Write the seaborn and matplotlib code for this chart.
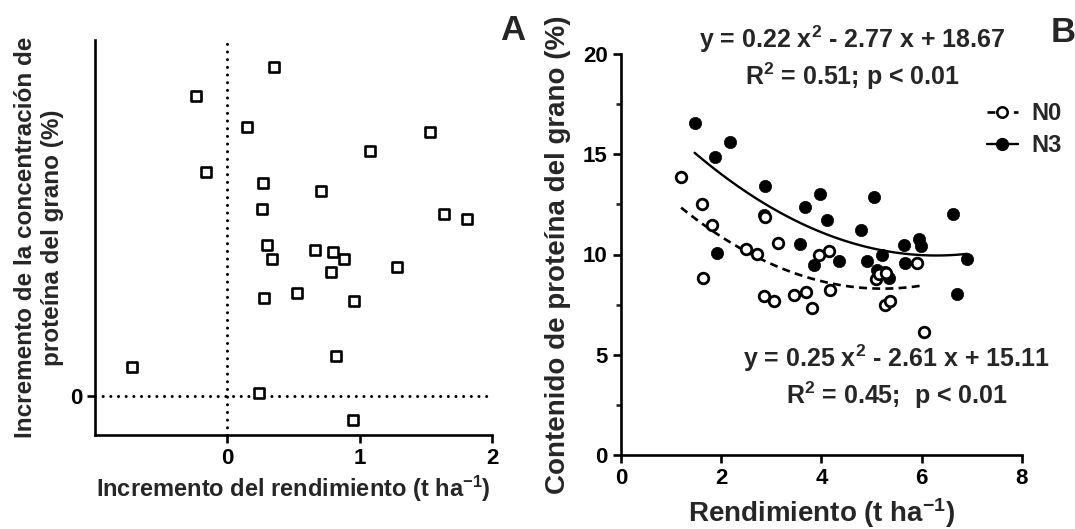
import numpy as np
import seaborn as sns
import matplotlib.pyplot as plt
from matplotlib.lines import Line2D

# Panel A: incrementos N3 - N0
inc_rend = [0.35, -0.24, 0.15, 1.53, 1.08, -0.16, 0.27, 0.71, 0.26, 1.64, 1.81,
            0.30, 0.66, 0.80, 0.34, 0.88, 0.78, 1.28, 0.53, 0.28, 0.96, 0.82,
            -0.72, 0.24, 0.95]
inc_prot = [8.50, 7.75, 6.93, 6.81, 6.32, 5.78, 5.51, 5.30, 4.83, 4.70, 4.57,
            3.89, 3.78, 3.71, 3.54, 3.54, 3.21, 3.33, 2.65, 2.53, 2.46, 1.03,
            0.76, 0.08, -0.61]
ticks_a_x = [0, 1, 2]
ticks_a_y = [0]

# Panel B: rendimiento vs proteina
n3_rend = [1.47, 2.17, 1.87, 2.87, 2.85, 3.68, 3.57, 1.91, 3.98, 5.05, 4.11, 6.63,
           4.79, 5.65, 5.95, 5.98, 5.21, 4.36, 4.91, 3.85, 5.68, 6.91, 6.70, 5.11,
           5.28, 5.35]
n3_prot = [16.57, 15.61, 14.88, 13.42, 11.97, 12.35, 10.52, 10.06, 13.00, 12.88,
           11.72, 12.02, 11.22, 10.47, 10.76, 10.42, 9.98, 9.69, 9.69, 9.48, 9.56,
           9.78, 8.01, 9.23, 9.14, 8.85]
n0_rend = [1.20, 1.61, 1.81, 2.50, 2.71, 3.14, 1.63, 2.85, 3.05, 3.46, 3.69, 3.81,
           2.88, 4.15, 3.96, 5.91, 4.17, 5.27, 5.38, 6.05, 5.10, 5.15, 5.30]
n0_prot = [13.88, 12.52, 11.46, 10.27, 10.02, 10.56, 8.81, 7.93, 7.68, 7.98, 8.15,
           7.32, 11.85, 10.19, 9.98, 9.56, 8.23, 7.48, 7.68, 6.15, 8.80, 9.05, 9.10]
ticks_b_x = [0, 2, 4, 6, 8]
ticks_b_y = [0, 5, 10, 15, 20]

coef_n0 = [0.25, -2.61, 15.11]
coef_n3 = [0.22, -2.77, 18.67]

sns.set_style('ticks')
plt.rcParams['font.family'] = ['Liberation Sans', 'DejaVu Sans']
plt.rcParams['font.weight'] = 'bold'
plt.rcParams['axes.labelweight'] = 'bold'
plt.rcParams['mathtext.default'] = 'regular'
plt.rcParams['axes.linewidth'] = 1.9
plt.rcParams['axes.edgecolor'] = 'black'

W, H = 1075, 529
fig = plt.figure(figsize=(W / 100, H / 100), dpi=100)
axA = fig.add_axes([95 / W, 1 - 435 / H, (492 - 95) / W, (435 - 39.8) / H])
axB = fig.add_axes([621 / W, 1 - 455 / H, (1021.7 - 621) / W, (455 - 54) / H])

# ---- Panel A ----
dot = (0, (0.01, 2.5))
axA.axvline(0, color='black', ls=dot, lw=2.2, zorder=1, dash_capstyle='round')
axA.axhline(0, color='black', ls=dot, lw=2.2, zorder=1, dash_capstyle='round')
sns.scatterplot(x=inc_rend, y=inc_prot, ax=axA, marker='s', s=58,
                color='white', edgecolor='black', linewidth=1.9, zorder=3)
axA.set_xlim(-1, 2)
axA.set_ylim(-1, 9.19)
axA.set_xticks(ticks_a_x, labels=[str(t) for t in ticks_a_x], fontweight='bold')
axA.set_yticks(ticks_a_y, labels=[str(t) for t in ticks_a_y], fontweight='bold')
axA.tick_params(width=1.9, length=5.5, labelsize=16, colors='black')
axA.set_xlabel('Incremento del rendimiento (t ha$^{-1}$)', fontsize=17, va='center')
axA.set_ylabel('Incremento de la concentración de\nproteína del grano (%)',
               fontsize=17.5, va='center')
axA.xaxis.set_label_coords(0.5, -0.137)
axA.yaxis.set_label_coords(-0.141, 0.5)

# ---- Panel B ----
x3 = np.linspace(min(n3_rend), max(n3_rend), 100)
x0 = np.linspace(min(n0_rend), max(n0_rend), 100)
sns.lineplot(x=x3, y=np.polyval(coef_n3, x3), ax=axB, color='black', lw=1.7)
sns.lineplot(x=x0, y=np.polyval(coef_n0, x0), ax=axB, color='black', lw=1.9,
             linestyle=(0, (3, 2)))
sns.scatterplot(x=n3_rend, y=n3_prot, ax=axB, marker='o', s=78,
                color='black', edgecolor='black', linewidth=0.5, zorder=3)
sns.scatterplot(x=n0_rend, y=n0_prot, ax=axB, marker='o', s=58,
                color='white', edgecolor='black', linewidth=2.0, zorder=4)
axB.set_xlim(0, 8)
axB.set_ylim(0, 20)
axB.set_xticks(ticks_b_x, labels=[str(t) for t in ticks_b_x], fontweight='bold')
axB.set_yticks(ticks_b_y, labels=[str(t) for t in ticks_b_y], fontweight='bold')
axB.set_yticks(np.arange(0, 20.1, 2.5), minor=True)
axB.tick_params(which='major', width=1.9, length=6, labelsize=16, colors='black')
axB.tick_params(which='minor', width=1.9, length=3.5)
axB.set_xlabel('Rendimiento (t ha$^{-1}$)', fontsize=20, va='center')
axB.set_ylabel('Contenido de proteína del grano (%)', fontsize=20, va='center')
axB.xaxis.set_label_coords(0.5, -0.145)
axB.yaxis.set_label_coords(-0.157, 0.5)

axB.text(4.62, 20.75, 'y = 0.22 x$^2$ - 2.77 x + 18.67', ha='center', va='center',
         fontsize=18, clip_on=False)
axB.text(4.62, 18.9, 'R$^2$ = 0.51; p < 0.01', ha='center', va='center',
         fontsize=18, clip_on=False)
axB.text(5.5, 4.8, 'y = 0.25 x$^2$ - 2.61 x + 15.11', ha='center', va='center',
         fontsize=18, clip_on=False)
axB.text(5.5, 3.0, 'R$^2$ = 0.45;  p < 0.01', ha='center', va='center',
         fontsize=18, clip_on=False)

handles = [
    Line2D([], [], color='black', ls=(0, (3, 2)), lw=1.9, marker='o', ms=7.5,
           mfc='white', mec='black', mew=1.8, label='N0'),
    Line2D([], [], color='black', ls='-', lw=1.7, marker='o', ms=8.5,
           mfc='black', mec='black', label='N3'),
]
axB.legend(handles=handles, loc='upper left', bbox_to_anchor=(987 / W, 1 - 102 / H),
           bbox_transform=fig.transFigure, frameon=False, fontsize=17,
           handlelength=1.3, handletextpad=0.6, borderpad=0, borderaxespad=0,
           labelspacing=0.4)

sns.despine(fig=fig)

fig.text(513 / W, 1 - 31 / H, 'A', fontsize=25, ha='center', va='center')
fig.text(1063 / W, 1 - 33 / H, 'B', fontsize=25, ha='center', va='center')

fig.savefig('out.png', dpi=100)
